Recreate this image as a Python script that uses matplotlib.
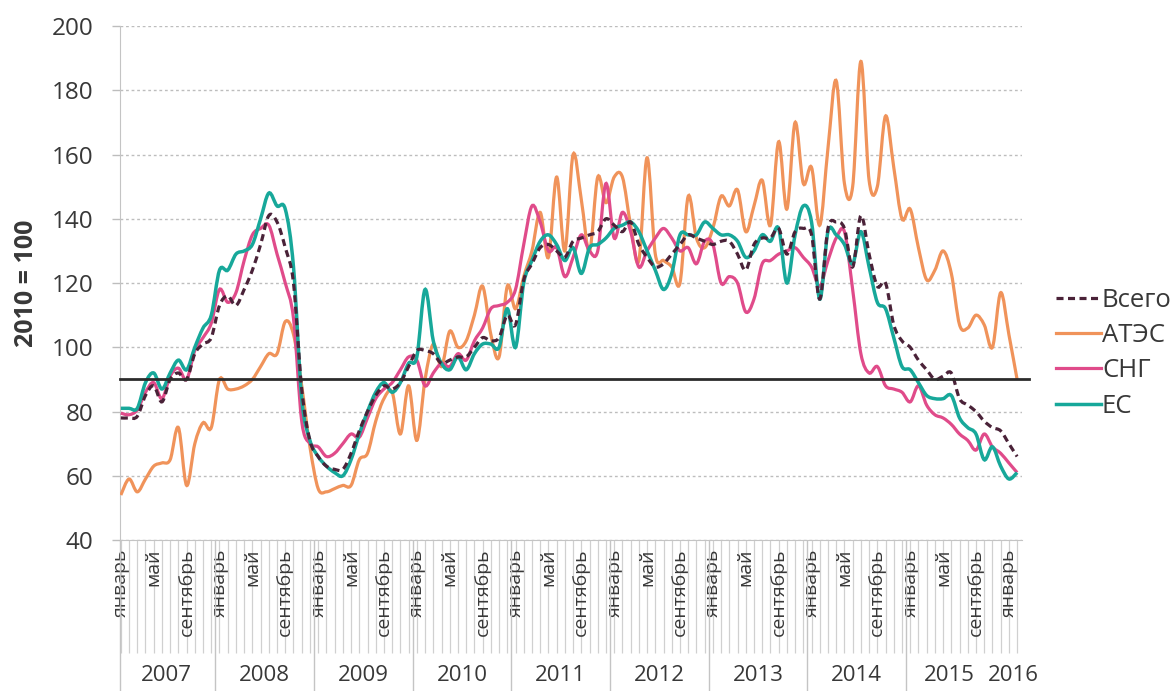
import matplotlib
matplotlib.use("Agg")
import matplotlib.pyplot as plt
import numpy as np
from matplotlib.path import Path
from matplotlib.patches import PathPatch
from matplotlib.lines import Line2D

plt.rcParams["font.family"] = ["Open Sans", "DejaVu Sans"]

# monthly index, Jan 2007 .. Feb 2016 (2010 = 100)
years = [2007, 2008, 2009, 2010, 2011, 2012, 2013, 2014, 2015, 2016]
month_names = {0: "январь", 4: "май", 8: "сентябрь"}

vsego = [78, 78, 78.5, 85, 88, 83, 90, 92, 90, 98, 101, 103,
         113, 116, 113, 118, 124, 132, 141, 139, 131, 120, 87, 71,
         66, 63, 62, 62, 67, 74, 80, 85, 88, 87, 89, 94,
         99, 99, 98, 95, 96, 97, 97, 100, 103, 102, 103, 110,
         107, 121, 126, 131, 132, 130, 128, 133, 134, 135, 136, 140,
         138, 136, 139, 132, 128, 125, 126, 129, 132, 135, 134, 133,
         132, 133, 133, 129, 124, 132, 134, 134, 137, 129, 136, 137,
         135, 115, 137, 139, 137, 125, 141, 129, 119, 120, 107, 102,
         100, 96, 93, 90, 91, 92, 84, 82, 80, 77, 75, 74,
         70, 66]
atec = [54, 59, 55, 59, 63, 64, 65, 75, 57, 70, 76.5, 75,
        90, 87, 87, 88, 90, 94, 98, 98, 108, 104, 88, 69,
        56, 55, 56, 57, 57, 65, 67, 77, 84, 86, 73, 88,
        71, 90, 101, 94, 105, 100, 102, 110, 119, 104, 97, 119,
        112, 122, 130, 142, 128, 153, 130, 160, 146, 130, 153, 145,
        153, 153, 138, 127, 159, 129, 127, 125, 120, 147, 134, 131,
        137, 147, 144, 149, 136, 144, 152, 138, 164, 143, 170, 151,
        156, 138, 162, 183, 151, 150, 189, 152, 150, 172, 156, 140,
        143, 131, 121, 124, 130, 123, 107, 106, 110, 107, 100, 117,
        104, 90]
sng = [79.5, 79, 80.5, 86, 89, 84, 91, 93.5, 90, 99, 103, 107.5,
       118, 114, 117, 127, 135, 137, 138, 129, 120, 109, 77, 70,
       69, 66, 67, 70, 73, 72, 78, 84, 87, 89, 93, 97,
       96, 88, 92, 95, 94, 98, 96, 102, 106, 112, 113, 114,
       118, 132, 144, 139, 130, 131, 122, 128, 135, 130, 130, 151,
       134, 142, 136, 125, 130, 134, 137, 134, 130, 131, 126, 133,
       132, 120, 122, 120, 111, 115, 126, 127, 129, 130, 131, 128,
       125, 119, 127, 134, 136, 118, 98, 92, 94, 88, 87, 86,
       83, 88, 82, 79, 78, 76, 73, 71, 68, 73, 69, 67,
       64, 61]
es = [81, 81, 81, 89, 92, 87, 92, 96, 93, 100, 106, 110,
      124, 124, 129, 130, 132, 140, 148, 144, 143, 125, 84, 71,
      66, 63, 61, 60, 65, 73, 80, 86, 89, 86, 89, 95,
      97, 118, 102, 95, 93, 97, 93, 98, 101, 101, 100, 112,
      100, 120, 127, 133, 135, 132, 127, 131, 123, 131, 132, 134,
      137, 138, 139, 136, 130, 124, 118, 123, 135, 135, 135, 139,
      137, 135, 135, 133, 128, 130, 135, 133, 137, 120, 135, 144,
      139, 115, 136, 135, 132, 126, 136, 125, 114, 112, 103, 94,
      93, 89, 85, 84, 84, 85, 78, 75, 73, 65, 69, 63,
      59, 61]
ref_level = 90

n = len(vsego)
m = np.arange(n)
year_centers = [5.5 + 12 * k for k in range(8)] + [100.8, 108.6]

TXT = "#383838"
GRID = "#bdbdbd"


def smooth_path(xs, ys):
    # smoothed line through the data points (bezier, like a spreadsheet "smooth line")
    pts = np.column_stack([xs, ys]).astype(float)
    p = np.vstack([pts[0], pts, pts[-1]])
    verts, codes = [pts[0]], [Path.MOVETO]
    for i in range(len(pts) - 1):
        p0, p1, p2, p3 = p[i], p[i + 1], p[i + 2], p[i + 3]
        verts += [p1 + (p2 - p0) / 6, p2 - (p3 - p1) / 6, p2]
        codes += [Path.CURVE4] * 3
    return Path(verts, codes)


fig = plt.figure(figsize=(11.73, 6.91), dpi=100)
ax = fig.add_axes([0.1023, 0.2185, 0.769, 0.7438])

series = [
    ("Всего", vsego, dict(color="#4a2238", lw=2.3, ls=(0, (2.2, 1.4))), 6),
    ("АТЭС", atec, dict(color="#f0935a", lw=2.3, ls="-"), 3),
    ("СНГ", sng, dict(color="#e04b8a", lw=2.3, ls="-"), 4),
    ("ЕС", es, dict(color="#17a89a", lw=2.5, ls="-"), 5),
]
handles = []
for name, vals, st, z in series:
    ax.add_patch(PathPatch(smooth_path(m, vals), fill=False, edgecolor=st["color"],
                           lw=st["lw"], ls=st["ls"], zorder=z, capstyle="butt"))
    handles.append(Line2D([], [], color=st["color"], lw=st["lw"], ls=st["ls"], label=name))

ax.axhline(ref_level, xmin=0, xmax=1.008, color="#2b2b2b", lw=2, zorder=7, clip_on=False)

ax.set_xlim(-0.1, 109.6)
ax.set_ylim(40, 200)
ax.set_yticks(range(40, 201, 20))
ax.grid(axis="y", color=GRID, lw=1, ls=(0, (2, 2)))
ax.tick_params(axis="y", length=6, width=1, color=GRID, pad=13, labelsize=17.5, labelcolor=TXT)
for s in ["top", "right"]:
    ax.spines[s].set_visible(False)
ax.spines["left"].set_color("#c4c4c4")
ax.spines["bottom"].set_color("#c4c4c4")

# monthly ticks, labels drawn over the tick lines
ax.set_xticks(m)
ax.set_xticklabels([month_names.get(i % 12, "") for i in m], rotation=90,
                   va="top", ha="center", fontsize=14, color=TXT)
ax.tick_params(axis="x", length=81, width=0.9, color="#d0d0d0", pad=-75)

# year separators and year labels
seps = [-0.1] + [11.5 + 12 * k for k in range(8)]
ax.vlines(seps, -0.294, 0, transform=ax.get_xaxis_transform(), color="#c4c4c4",
          lw=1, clip_on=False)
for yr, xc in zip(years, year_centers):
    ax.text(xc, -0.263, str(yr), transform=ax.get_xaxis_transform(), ha="center",
            va="center", fontsize=16, color=TXT)

ax.set_ylabel("2010 = 100", fontsize=18, fontweight="bold", color=TXT)
ax.yaxis.set_label_coords(-0.09, 0.5)

fig.legend(handles=handles, loc="center left", bbox_to_anchor=(0.889, 0.489),
           frameon=False, fontsize=18.5, handlelength=1.75, handletextpad=0.05,
           labelspacing=0.4, borderpad=0, labelcolor=TXT)

fig.savefig("out.png", dpi=100)
